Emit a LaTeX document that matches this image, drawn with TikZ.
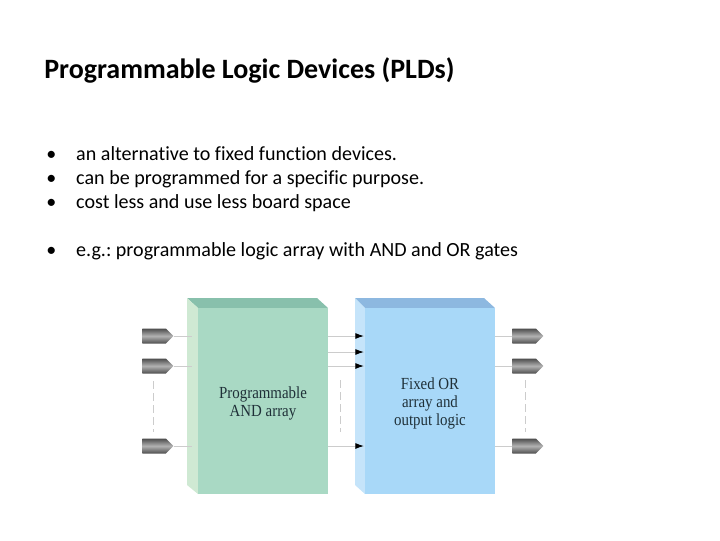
\documentclass[tikz,border=0pt]{standalone}
\usepackage{fontspec}
\setmainfont{Carlito}[Ligatures=NoCommon]
\newfontfamily\labelfont[FakeStretch=0.88]{Liberation Serif}
\usepackage{xcolor}
\usepackage{tikz}
\usetikzlibrary{arrows.meta,positioning,calc,shapes.symbols}
\definecolor{andfront}{HTML}{A9D9C4}
\definecolor{andtop}{HTML}{88C0AC}
\definecolor{andside}{HTML}{CFE9D3}
\definecolor{orfront}{HTML}{A8D8F8}
\definecolor{ortop}{HTML}{8DB8E0}
\definecolor{orside}{HTML}{C5E4FA}
\definecolor{labeltext}{HTML}{1F3038}
\frenchspacing
\tikzset{
  titletext/.style={anchor=base west, inner sep=0pt, font=\fontsize{21}{25}\selectfont\bfseries},
  itemtext/.style={anchor=base west, inner sep=0pt, font=\fontsize{15.05}{18}\selectfont},
  blockbox/.style={inner sep=0pt, minimum width=97.5pt, minimum height=139.5pt},
  blocktext/.style={inner sep=0pt, align=center, text=labeltext, font=\fontsize{12.7}{13.5}\selectfont\labelfont},
  pinbox/.style={signal, signal to=east, anchor=west, inner sep=0pt, minimum width=23.25pt, minimum height=11.25pt, top color=black!70, bottom color=black!70, middle color=black!30},
  wireline/.style={draw=black!20, line width=0.75pt},
  wirearrow/.style={-{Latex[black,length=6.5pt,width=4.5pt]}, draw=black!20, line width=0.75pt},
  gapline/.style={draw=black!20, line width=0.75pt, dash pattern=on 6pt off 3pt}
}
\begin{document}
\begin{tikzpicture}[x=0.75pt,y=-0.75pt]
  \useasboundingbox (0,0) rectangle (720,540);
  \node[titletext] (title) at (44,78) {Programmable Logic Devices (PLDs)};
  \node[itemtext] (item1) at (46,160) {\makebox[22.5pt][l]{•}an alternative to fixed function devices.};
  \node[itemtext] (item2) at (46,184) {\makebox[22.5pt][l]{•}can be programmed for a specific purpose.};
  \node[itemtext] (item3) at (46,208) {\makebox[22.5pt][l]{•}cost less and use less board space};
  \node[itemtext] (item4) at (46,256) {\makebox[22.5pt][l]{•}e.g.: programmable logic array with AND and OR gates};
  % block faces
  \fill[andtop] (187,298) -- (317,298) -- (328,308) -- (198,308) -- cycle;
  \fill[andside] (187,298) -- (198,308) -- (198,494) -- (187,485) -- cycle;
  \fill[ortop] (355,298) -- (484,298) -- (495,308) -- (365,308) -- cycle;
  \fill[orside] (355,298) -- (365,308) -- (365,494) -- (355,485) -- cycle;
  \node[blockbox, fill=andfront] (andarray) at (263,401) {};
  \node[blockbox, fill=orfront] (orarray) at (430,401) {};
  \node[blocktext] (andlabel) at (263,403) {Programmable\\AND array};
  \node[blocktext] (orlabel) at (430,403) {Fixed OR\\array and\\output logic};
  % pins
  \node[pinbox] (in1) at (142,336) {};
  \node[pinbox] (in2) at (142,366) {};
  \node[pinbox] (in3) at (142,446) {};
  \node[pinbox] (out1) at (512,336) {};
  \node[pinbox] (out2) at (512,366) {};
  \node[pinbox] (out3) at (512,446) {};
  \coordinate (a1) at (192,336);
  \coordinate (a2) at (192,366);
  \coordinate (a3) at (192,446);
  \coordinate (p1) at (328,336);
  \coordinate (p2) at (328,352);
  \coordinate (p3) at (328,366);
  \coordinate (p4) at (328,446);
  \coordinate (q1) at (364,336);
  \coordinate (q2) at (364,352);
  \coordinate (q3) at (364,366);
  \coordinate (q4) at (364,446);
  \coordinate (r1) at (495,336);
  \coordinate (r2) at (495,366);
  \coordinate (r3) at (495,446);
  \draw[wireline] (in1.east) -- (a1);
  \draw[wireline] (in2.east) -- (a2);
  \draw[wireline] (in3.east) -- (a3);
  \draw[wirearrow] (p1) -- (q1);
  \draw[wirearrow] (p2) -- (q2);
  \draw[wirearrow] (p3) -- (q3);
  \draw[wirearrow] (p4) -- (q4);
  \draw[wireline] (r1) -- (out1.west);
  \draw[wireline] (r2) -- (out2.west);
  \draw[wireline] (r3) -- (out3.west);
  % dashed gaps
  \coordinate (g1) at (153,381);
  \coordinate (g2) at (153,432);
  \coordinate (g3) at (340,380);
  \coordinate (g4) at (340,432);
  \coordinate (g5) at (525,380);
  \coordinate (g6) at (525,432);
  \draw[gapline] (g1) -- (g2);
  \draw[gapline] (g3) -- (g4);
  \draw[gapline] (g5) -- (g6);
\end{tikzpicture}
\end{document}
